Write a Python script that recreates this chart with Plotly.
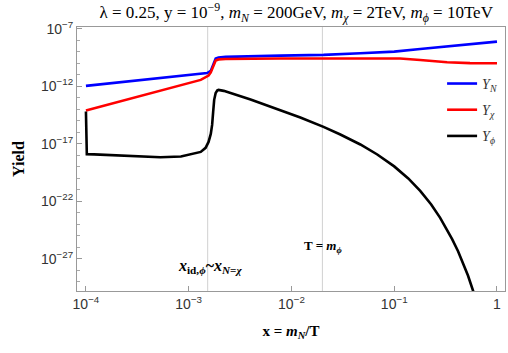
import plotly.graph_objects as go

# ---- data ----
x_N = [1.0e-4, 3.98e-4, 1.51e-3, 1.64e-3, 1.71e-3, 1.77e-3, 1.83e-3, 1.95e-3, 2.29e-3,
       7.8e-3, 2.05e-2, 4.68e-2, 1.0e-1, 1.79e-1, 3.5e-1, 6.1e-1, 1.0]
Y_N = [1.12e-12, 4.17e-12, 1.45e-11, 2.24e-11, 6.0e-11, 1.66e-10, 2.69e-10, 3.31e-10, 3.72e-10,
       4.79e-10, 5.5e-10, 7.6e-10, 1.07e-9, 1.82e-9, 3.16e-9, 5.0e-9, 7.9e-9]

x_chi = [1.0e-4, 1.75e-4, 3.05e-4, 5.35e-4, 9.35e-4, 1.31e-3, 1.56e-3, 1.64e-3, 1.71e-3,
         1.77e-3, 1.83e-3, 1.95e-3, 2.29e-3, 7.8e-3, 2.05e-2, 1.14e-1, 1.79e-1, 3.27e-1,
         5.47e-1, 1.0]
Y_chi = [7.9e-15, 3.0e-14, 1.15e-13, 4.3e-13, 1.55e-12, 3.7e-12, 8.9e-12, 1.66e-11, 4.1e-11,
         1.1e-10, 1.82e-10, 2.24e-10, 2.45e-10, 2.7e-10, 2.8e-10, 2.7e-10, 2.0e-10, 1.26e-10,
         1.07e-10, 1.05e-10]

x_phi = [1.0e-4, 1.02e-4, 1.2e-4, 2.7e-4, 5.3e-4, 8.4e-4, 1.12e-3, 1.31e-3, 1.46e-3, 1.56e-3,
         1.64e-3, 1.69e-3, 1.73e-3, 1.77e-3, 1.83e-3, 1.9e-3, 1.95e-3, 2.19e-3, 4.0e-3, 7.8e-3,
         1.22e-2, 2.05e-2, 2.99e-2, 4.68e-2, 6.84e-2, 1.0e-1, 1.37e-1, 1.79e-1, 2.29e-1,
         2.8e-1, 3.27e-1, 3.66e-1, 4.18e-1, 4.68e-1, 5.22e-1, 5.85e-1, 6.55e-1]
Y_phi = [6.5e-15, 1.26e-18, 1.23e-18, 9.1e-19, 6.9e-19, 8.1e-19, 1.35e-18, 2.0e-18, 4.5e-18,
         1.48e-17, 7.4e-17, 4.5e-16, 6.0e-15, 6.8e-14, 2.7e-13, 4.6e-13, 5.0e-13, 4.1e-13,
         7.4e-14, 9.1e-15, 2.0e-15, 3.0e-16, 6.6e-17, 8.9e-18, 1.2e-18, 1.1e-19, 9.8e-21,
         8.1e-22, 5.4e-23, 3.7e-24, 3.5e-25, 5.2e-26, 4.6e-27, 4.4e-28, 3.5e-29, 1.66e-30,
         8.3e-32]

x_ticks = [1e-4, 1e-3, 1e-2, 1e-1, 1]
x_ticktext = ["10<sup>−4</sup>", "10<sup>−3</sup>", "10<sup>−2</sup>", "10<sup>−1</sup>", "1"]
y_ticks = [1e-7, 1e-12, 1e-17, 1e-22, 1e-27]
y_ticktext = ["10<sup>−7</sup>", "10<sup>−12</sup>", "10<sup>−17</sup>", "10<sup>−22</sup>", "10<sup>−27</sup>"]
y_minor = [10.0 ** k for k in range(-29, -6)]

x_idphi = 1.53e-3      # x_id,phi ~ x_{N=chi}
x_Tmphi = 0.02         # T = m_phi  (m_N / m_phi)

names = ["<i>Y</i><sub><i>N</i></sub>", "<i>Y</i><sub><i>χ</i></sub>", "<i>Y</i><sub><i>ϕ</i></sub>"]
colors = ["#0000ff", "#ff0000", "#000000"]

fig = go.Figure()
for i, (xs, ys) in enumerate([(x_N, Y_N), (x_chi, Y_chi), (x_phi, Y_phi)]):
    fig.add_trace(go.Scatter(x=xs, y=ys, mode="lines", name=names[i],
                             line=dict(color=colors[i], width=2.6),
                             legendgroup=str(i)))

for xv in [x_idphi, x_Tmphi]:
    fig.add_shape(type="line", xref="x", yref="paper", x0=xv, x1=xv, y0=0, y1=1,
                  line=dict(color="#d0d0d0", width=1), layer="below")

serif = "Liberation Serif"
sans = "Liberation Sans"

fig.update_layout(
    width=508, height=353,
    margin=dict(l=77, r=3, t=27, b=62, autoexpand=False),
    plot_bgcolor="white", paper_bgcolor="white",
    title=dict(text="λ = 0.25, y = 10<sup>−9</sup>, <i>m</i><sub><i>N</i></sub> = 200GeV, "
                    "<i>m</i><sub><i>χ</i></sub> = 2TeV, <i>m</i><sub><i>ϕ</i></sub> = 10TeV",
               x=0.583, xanchor="center", y=0.965, yanchor="middle",
               font=dict(family=serif, size=17, color="black")),
    legend=dict(x=0.853, y=0.845, xanchor="left", yanchor="top",
                bgcolor="rgba(0,0,0,0)", font=dict(family=serif, size=14, color="#333"),
                tracegroupgap=5),
    showlegend=True,
)

fig.update_xaxes(type="log", range=[-4.087, 0.078],
                 tickvals=x_ticks, ticktext=x_ticktext,
                 ticks="inside", ticklen=5, tickcolor="#999",
                 showline=True, linecolor="#999", linewidth=1, mirror=True,
                 showgrid=False, zeroline=False,
                 tickfont=dict(family=sans, size=14, color="#333"),
                 title=dict(text="<b>x = <i>m</i><sub><i>N</i></sub>/T</b>",
                            font=dict(family=serif, size=15, color="black"), standoff=14))
fig.update_yaxes(type="log", range=[-29.8, -6.83],
                 tickvals=y_ticks, ticktext=y_ticktext,
                 ticks="inside", ticklen=5, tickcolor="#999",
                 minor=dict(tickvals=y_minor, ticks="inside", ticklen=3, tickcolor="#aaa"),
                 showline=True, linecolor="#999", linewidth=1, mirror=True,
                 showgrid=False, zeroline=False,
                 tickfont=dict(family=sans, size=14, color="#333"),
                 title=dict(text="<b>Yield</b>",
                            font=dict(family=serif, size=16, color="black"), standoff=12))

fig.add_annotation(x=-1.69, y=0.13, xref="x", yref="paper",
                   text="<b>T = <i>m</i><sub><i>ϕ</i></sub></b>", showarrow=False,
                   font=dict(family=serif, size=13, color="black"))
fig.add_annotation(x=-2.795, y=0.05, xref="x", yref="paper",
                   text="<b><i>x</i><sub>id,<i>ϕ</i></sub>~<i>x</i><sub><i>N</i>=<i>χ</i></sub></b>",
                   showarrow=False, font=dict(family=serif, size=16, color="black"))

fig.write_html("out.html", config={"displayModeBar": False},
               post_script="document.body.style.margin='0';")
